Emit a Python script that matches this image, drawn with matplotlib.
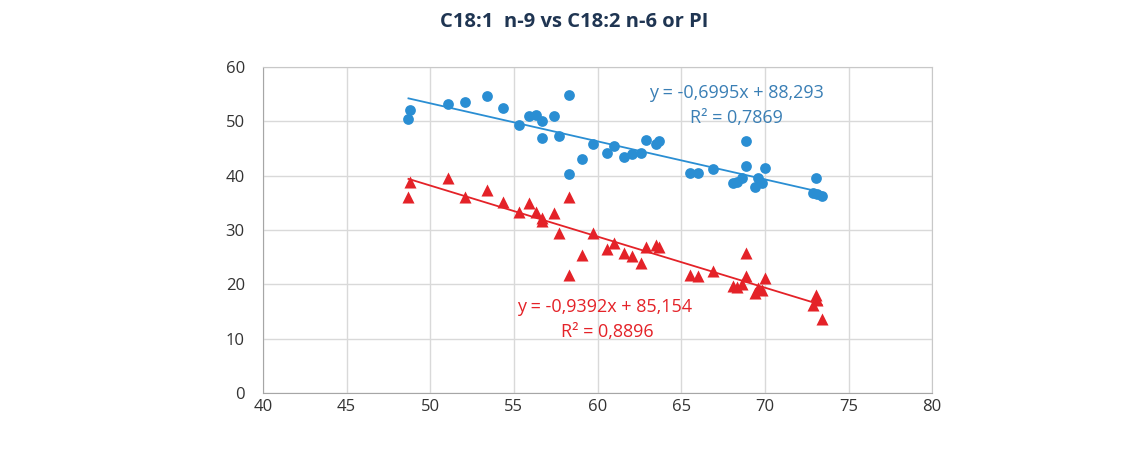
import numpy as np
import matplotlib.pyplot as plt

plt.rcParams['font.family'] = ['Open Sans', 'DejaVu Sans']

# C18:1 n-9 (x) against C18:2 n-6 (blue) and PI (red)
c18_1 = [48.7, 48.8, 51.05, 52.1, 53.4, 54.35, 55.3, 55.93, 56.3, 56.7, 56.7,
         57.4, 57.72, 58.32, 58.32, 59.06, 59.7, 60.55, 61.0, 61.6, 62.08, 62.6,
         62.92, 63.5, 63.7, 65.52, 66.02, 66.9, 68.09, 68.35, 68.63, 68.9, 68.9,
         69.4, 69.58, 69.83, 70.0, 72.85, 73.05, 73.1, 73.4]
c18_2 = [50.5, 52.1, 53.2, 53.5, 54.6, 52.5, 49.4, 50.9, 51.2, 50.1, 46.9,
         50.9, 47.3, 54.9, 40.3, 43.0, 45.9, 44.1, 45.4, 43.5, 44.0, 44.1,
         46.5, 45.9, 46.3, 40.5, 40.5, 41.3, 38.6, 38.9, 39.5, 46.3, 41.8,
         38.0, 39.5, 38.7, 41.4, 36.9, 39.5, 36.6, 36.2]
pi = [36.0, 38.9, 39.5, 36.0, 37.3, 35.2, 33.4, 35.0, 33.4, 31.7, 32.2,
      33.2, 29.4, 36.0, 21.7, 25.5, 29.4, 26.5, 27.7, 25.8, 25.2, 24.0,
      26.8, 27.3, 26.8, 21.7, 21.5, 22.5, 19.7, 19.6, 20.1, 25.8, 21.5,
      18.5, 19.3, 19.0, 21.1, 16.2, 18.0, 17.1, 13.6]

# trendline coefficients as printed on the chart
blue_fit = (-0.6995, 88.293, 0.7869)
red_fit = (-0.9392, 85.154, 0.8896)

BLUE = '#2A8ED3'
RED = '#E42228'

fig = plt.figure(figsize=(11.48, 4.62), dpi=100)
ax = fig.add_axes([0.229, 0.149, 0.583, 0.706])

x = np.array(c18_1)
xs = np.array([x.min(), x.max()])
ax.plot(xs, blue_fit[0] * xs + blue_fit[1], color=BLUE, linewidth=1.3, zorder=2)
ax.plot(xs, red_fit[0] * xs + red_fit[1], color=RED, linewidth=1.3, zorder=2)
ax.scatter(x, c18_2, s=60, marker='o', color=BLUE, linewidths=0, zorder=3)
ax.scatter(x, pi, s=75, marker='^', color=RED, linewidths=0, zorder=3)

def eq(fit):
    a, b, r2 = fit
    s = f"y = {a:.4f}x + {b:.3f}".replace('.', ',')
    return s, f"R² = {r2:.4f}".replace('.', ',')

l1, l2 = eq(blue_fit)
ax.text(68.3, 55.2, l1, color='#3A7FB5', fontsize=13, ha='center', va='center')
ax.text(68.3, 50.6, l2, color='#3A7FB5', fontsize=13, ha='center', va='center')
l1, l2 = eq(red_fit)
ax.text(60.45, 15.9, l1, color=RED, fontsize=13, ha='center', va='center')
ax.text(60.6, 11.3, l2, color=RED, fontsize=13, ha='center', va='center')

ax.set_xlim(40, 80)
ax.set_ylim(0, 60)
ax.set_xticks(range(40, 81, 5))
ax.set_yticks(range(0, 61, 10))
ax.grid(True, color='#D9D9D9', linewidth=1)
ax.set_axisbelow(True)
for sp in ax.spines.values():
    sp.set_color('#C8C8C8')
ax.spines['left'].set_color('#A6A6A6')
ax.spines['bottom'].set_color('#A6A6A6')
ax.tick_params(length=0, labelsize=12, labelcolor='#333333')
ax.tick_params(axis='x', pad=4)
ax.tick_params(axis='y', pad=13)

fig.text(574 / 1148, 0.952, 'C18:1  n-9 vs C18:2 n-6 or PI', ha='center', va='center',
         fontsize=14.5, fontweight='bold', color='#1F3552')

fig.savefig('out.png', dpi=100)
